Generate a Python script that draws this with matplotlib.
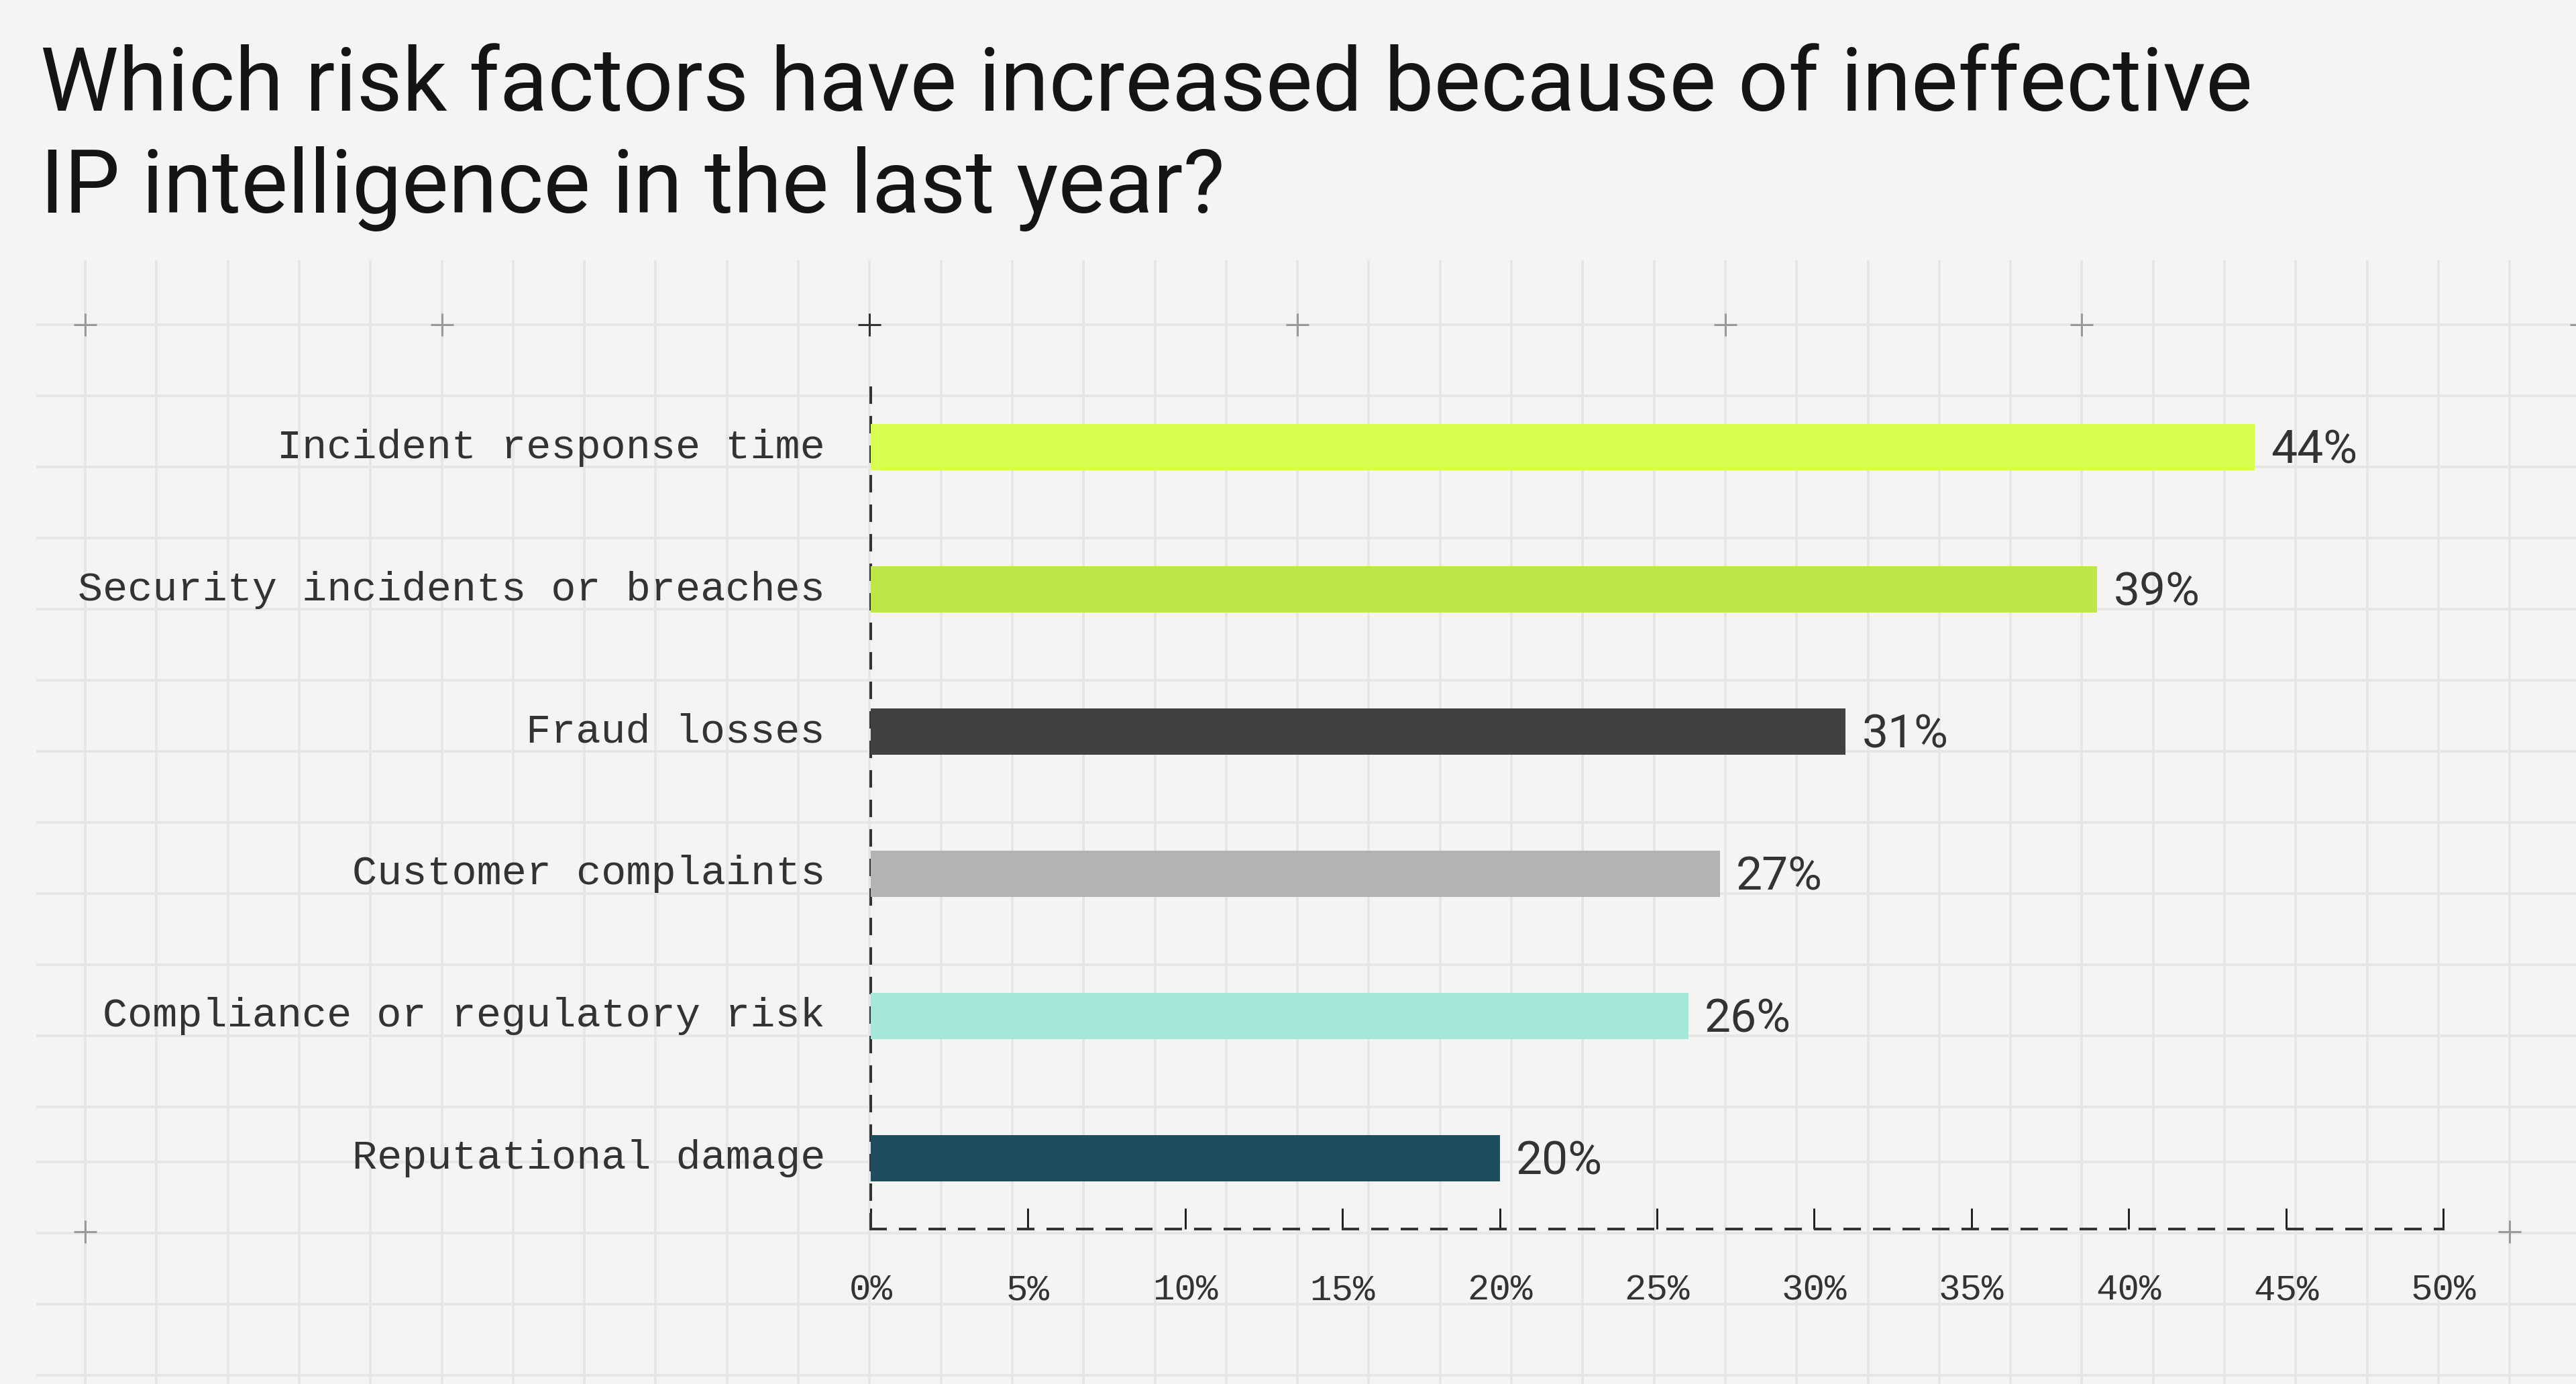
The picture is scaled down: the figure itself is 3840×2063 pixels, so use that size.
import matplotlib
matplotlib.use("Agg")
import matplotlib.pyplot as plt
from matplotlib.ticker import FixedLocator, FixedFormatter

# ---------------- data ----------------
categories = [
    "Incident response time",
    "Security incidents or breaches",
    "Fraud losses",
    "Customer complaints",
    "Compliance or regulatory risk",
    "Reputational damage",
]
values = [44, 39, 31, 27, 26, 20]
value_labels = ["44%", "39%", "31%", "27%", "26%", "20%"]
bar_colors = ["#D6FF50", "#BDE649", "#414141", "#B3B3B3", "#A5E8DA", "#1E4D5E"]
x_ticks = [0, 5, 10, 15, 20, 25, 30, 35, 40, 45, 50]
x_tick_labels = ["0%", "5%", "10%", "15%", "20%", "25%", "30%", "35%", "40%", "45%", "50%"]
title_lines = ["Which risk factors have increased because of ineffective",
               "IP intelligence in the last year?"]

# ---------------- layout ----------------
W, H = 3840, 2063
DPI = 100
BG = "#F5F4F2"
GRID = "#E8E6E4"
TXT = "#333333"
PX = 72.0 / DPI  # points per pixel

fig = plt.figure(figsize=(W / DPI, H / DPI), dpi=DPI, facecolor=BG)

# background decoration axes in pixel coordinates
bg = fig.add_axes([0, 0, 1, 1], zorder=0)
bg.set_xlim(0, W)
bg.set_ylim(H, 0)
bg.axis("off")
bg.set_facecolor(BG)

gx0, gstep = 127.0, 106.3
grid_top, grid_left = 388, 54
vx = [gx0 + gstep * k for k in range(36)]
hy = [484 + 106.0 * k for k in range(12)] + [1732, 1838, 1944, 2050]
bg.vlines(vx, grid_top, H, color=GRID, lw=4 * PX, zorder=0)
bg.hlines(hy, grid_left, W, color=GRID, lw=4 * PX, zorder=0)

# plus marks
plus_top_cols = [0, 5, 17, 23, 28, 35]
bg.plot([gx0 + gstep * c for c in plus_top_cols], [hy[0]] * len(plus_top_cols),
        ls="none", marker="+", ms=34 * PX, mew=3 * PX, color="#9A9A9A", zorder=1)
bg.plot([gx0 + gstep * 11], [hy[0]], ls="none", marker="+", ms=34 * PX,
        mew=3 * PX, color="#333333", zorder=1)
bg.plot([gx0 + gstep * 0, gx0 + gstep * 34], [1836, 1836], ls="none", marker="+",
        ms=34 * PX, mew=3 * PX, color="#9A9A9A", zorder=1)

# title
renderer = fig.canvas.get_renderer()
t1 = bg.text(60, 165, title_lines[0], fontsize=90, family="Roboto", color="#141414",
             ha="left", va="baseline", zorder=3)
bb = t1.get_window_extent(renderer)
fs = 90 * 3296.0 / bb.width
t1.set_fontsize(fs)
bg.text(60, 317, title_lines[1], fontsize=fs, family="Roboto", color="#141414",
        ha="left", va="baseline", zorder=3)

# ---------------- bar axes ----------------
x0px, x1px = 1298, 3642
step = 212.0
yc0 = 669.0
top_px = yc0 - 0.5 * step - 2
bot_px = yc0 + 5.5 * step - 3
ax = fig.add_axes([x0px / W, (H - bot_px) / H, (x1px - x0px) / W, (bot_px - top_px) / H],
                  zorder=2)
ax.patch.set_alpha(0)
ypos = list(range(len(categories)))
ax.barh(ypos, values, height=0.325, color=bar_colors, zorder=3)
ax.set_xlim(0, 50)
ax.set_ylim(len(categories) - 0.5, -0.5)

for sp in ["top", "right"]:
    ax.spines[sp].set_visible(False)
for sp in ["left", "bottom"]:
    ax.spines[sp].set_linewidth(4 * PX)
    ax.spines[sp].set_color("#333333")
    ax.spines[sp].set_linestyle((0, (5.5, 5.5)))

ax.xaxis.set_major_locator(FixedLocator(x_ticks))
ax.xaxis.set_major_formatter(FixedFormatter(x_tick_labels))
ax.tick_params(axis="x", direction="in", length=31 * PX, width=3 * PX, color="#222222",
               pad=48, labelsize=39, labelcolor=TXT)
for lab in ax.get_xticklabels():
    lab.set_family("Liberation Mono")
ax.set_yticks([])

# category labels
for y, cat in zip(ypos, categories):
    ax.annotate(cat, xy=(0, y), xycoords=("axes fraction", "data"),
                xytext=(-68 * PX, 6 * PX), textcoords="offset points",
                ha="right", va="center_baseline", fontsize=44.6,
                family="Liberation Mono", color=TXT, zorder=4)

# value labels
for y, v, lab in zip(ypos, values, value_labels):
    ax.annotate(lab, xy=(v, y), xytext=(24 * PX, -5 * PX), textcoords="offset points",
                ha="left", va="center", fontsize=50, family="Roboto", color=TXT,
                zorder=4)

fig.savefig("out.png", dpi=DPI, facecolor=BG)
